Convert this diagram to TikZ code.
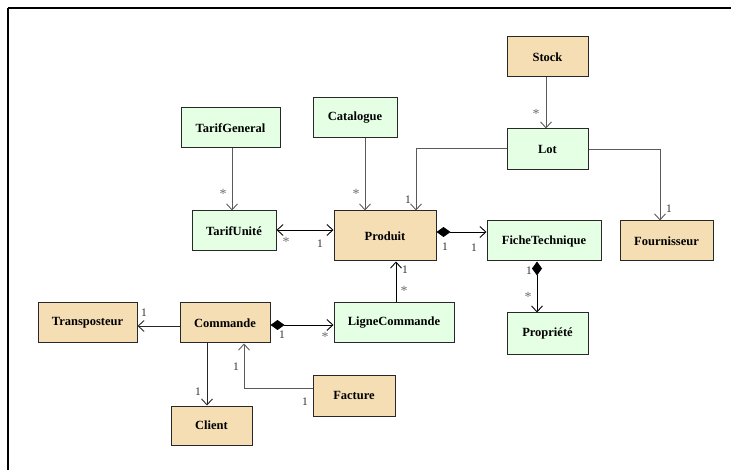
\documentclass[tikz,border=0pt]{standalone}
\usepackage{fontspec}
\setmainfont{Liberation Serif}
\usetikzlibrary{arrows.meta}
\definecolor{tan}{RGB}{245,222,179}
\definecolor{mint}{RGB}{228,255,228}
\definecolor{edgegray}{RGB}{40,40,40}
\definecolor{linegray}{RGB}{90,90,90}
\definecolor{multgray}{RGB}{110,110,110}
\tikzset{
  cls/.style={draw=edgegray, line width=1pt, font=\fontsize{12.5}{14}\selectfont\bfseries,
    inner sep=0pt, minimum width=#1},
  ocls/.style={cls=#1, fill=tan},
  gcls/.style={cls=#1, fill=mint},
  assoc/.style={draw=linegray, line width=0.9pt, -{Straight Barb[length=6pt,width=11pt]}},
  bidir/.style={draw=black, line width=0.9pt, {Straight Barb[length=6pt,width=11pt]}-{Straight Barb[length=6pt,width=11pt]}},
  compo/.style={draw=black, line width=0.9pt, {Diamond[length=14pt,width=10pt]}-{Straight Barb[length=6pt,width=11pt]}},
  mult/.style={font=\fontsize{11.5}{12}\selectfont, text=black!80, inner sep=0pt},
  star/.style={font=\fontsize{14}{14}\selectfont, text=multgray, inner sep=0pt, yshift=2pt},
}
\begin{document}
\begin{tikzpicture}[x=1pt,y=-1pt]
\useasboundingbox (0,0) rectangle (731,470);
% outer frame (top and left edges)
\draw[line width=2pt] (8,8) -- (731,8);
\draw[line width=2pt] (8,8) -- (8,470);

% classes
\node[ocls=81pt, minimum height=40pt] (stock) at (547.5,57) {Stock};
\node[gcls=81pt, minimum height=41pt] (lot) at (547.5,149.5) {Lot};
\node[ocls=93pt, minimum height=40pt] (four) at (666.5,241) {Fournisseur};
\node[gcls=114pt, minimum height=40pt] (fiche) at (544,241) {FicheTechnique};
\node[ocls=102pt, minimum height=50pt] (produit) at (385,236) {Produit};
\node[gcls=84pt, minimum height=40pt] (tarifu) at (234,231) {TarifUnité};
\node[gcls=99pt, minimum height=40pt] (tarifg) at (230.5,128) {TarifGeneral};
\node[gcls=84pt, minimum height=40pt] (catalogue) at (355,118) {Catalogue};
\node[gcls=81pt, minimum height=41pt] (propriete) at (547.5,333.5) {Propriété};
\node[gcls=120pt, minimum height=40pt] (ligne) at (394,323) {LigneCommande};
\node[ocls=90pt, minimum height=40pt] (commande) at (225,323) {Commande};
\node[ocls=99pt, minimum height=40pt] (transp) at (87.5,323) {Transposteur};
\node[ocls=81pt, minimum height=39pt] (client) at (211.5,425.5) {Client};
\node[ocls=82pt, minimum height=41pt] (facture) at (354,395.5) {Facture};

% associations
\draw[assoc] (stock.south -| 546,0) -- (lot.north -| 546,0);
\draw[assoc] (lot.west |- 0,148) -| (produit.north -| 416,0);
\draw[assoc] (lot.east |- 0,149) -| (four.north -| 660,0);
\draw[assoc] (catalogue.south -| 365,0) -- (produit.north -| 365,0);
\draw[assoc] (tarifg.south -| 232,0) -- (tarifu.north -| 232,0);
\draw[bidir] (tarifu.east |- 0,230) -- (produit.west |- 0,230);
\draw[compo] (produit.east |- 0,232) -- (fiche.west |- 0,232);
\draw[compo] (fiche.south -| 537,0) -- (propriete.north -| 537,0);
\draw[assoc, draw=black] (ligne.north -| 396,0) -- (produit.south -| 396,0);
\draw[compo] (commande.east |- 0,325) -- (ligne.west |- 0,325);
\draw[assoc, draw=black!85] (commande.west |- 0,326) -- (transp.east |- 0,326);
\draw[assoc, draw=black!85] (commande.south -| 207,0) -- (client.north -| 207,0);
\draw[assoc] (facture.west |- 0,388) -| (commande.south -| 244,0);

% multiplicities
\node[star] (m1) at (536,116) {*};
\node[mult] (m2) at (408,200) {1};
\node[mult] (m3) at (669,209) {1};
\node[star] (m4) at (356,196) {*};
\node[star] (m5) at (223,196) {*};
\node[star] (m6) at (286,244) {*};
\node[mult] (m7) at (320,244) {1};
\node[mult] (m8) at (445,247) {1};
\node[mult] (m9) at (474,248) {1};
\node[mult] (m10) at (529,271) {1};
\node[star] (m11) at (528,299) {*};
\node[mult] (m12) at (405,270) {1};
\node[star] (m13) at (404,293) {*};
\node[mult] (m14) at (282,335) {1};
\node[star] (m15) at (325,339) {*};
\node[mult] (m16) at (144,313) {1};
\node[mult] (m17) at (198,392) {1};
\node[mult] (m18) at (236,367) {1};
\node[mult] (m19) at (305,402) {1};
\end{tikzpicture}
\end{document}
